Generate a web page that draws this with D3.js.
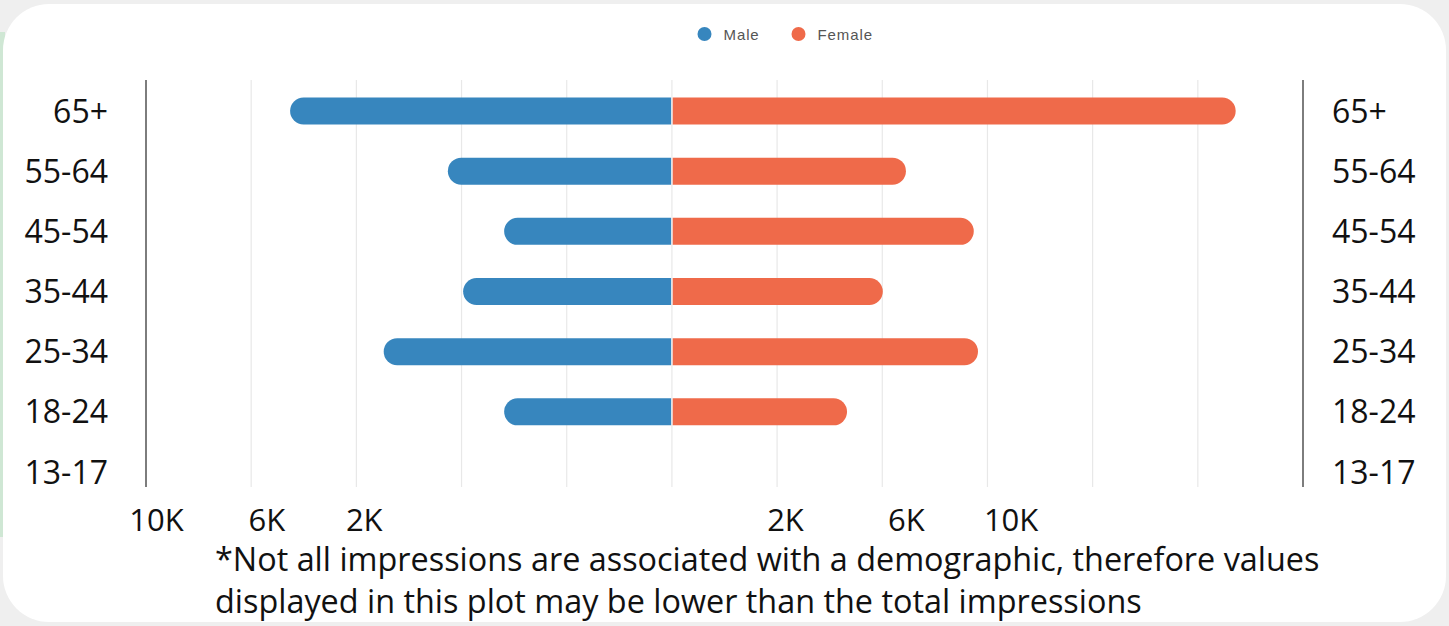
<!DOCTYPE html>
<html>
<head>
<meta charset="utf-8">
<script src="https://cdn.jsdelivr.net/npm/d3@7"></script>
<style>
	html, body { margin: 0; padding: 0; background: #efefef; }
	svg { display: block; }
</style>
</head>
<body>
<div id="chart"></div>
<script>
// age groups, top to bottom
const ageGroups = ['65+', '55-64', '45-54', '35-44', '25-34', '18-24', '13-17'];
// impressions
const maleValues = [7260, 4260, 3190, 3970, 5480, 3190, 0];
const femaleValues = [10720, 4450, 5740, 4010, 5820, 3330, 0];
const seriesNames = ['Male', 'Female'];
const seriesColors = ['#3786be', '#ef6a4a'];
// overlay tick labels under the plot, and where they sit on the value axis
const tickLabels = ['10K', '6K', '2K', '2K', '6K', '10K'];
const tickAt = [-9800, -7700, -5850, 2160, 4460, 6450];
const footnote = [
	'*Not all impressions are associated with a demographic, therefore values',
	'displayed in this plot may be lower than the total impressions'
];

const W = 1449, H = 626;
const FONT = '"Open Sans", sans-serif';

const svg = d3.select('#chart').append('svg')
	.attr('width', W)
	.attr('height', H);

// page background + card
svg.append('rect').attr('width', W).attr('height', H).attr('fill', '#efefef');
svg.append('rect')
	.attr('x', 0).attr('y', 32).attr('width', 5).attr('height', 505)
	.attr('fill', '#cfe7d4');
svg.append('rect')
	.attr('x', 3).attr('y', 4).attr('width', 1443).attr('height', 618)
	.attr('rx', 46).attr('ry', 46)
	.attr('fill', '#ffffff');

const x = d3.scaleLinear().domain([-10000, 12000]).range([146, 1303]);
const y = d3.scalePoint().domain(ageGroups).range([111, 472]);
const barH = 27;
const plotTop = 80, plotBottom = 487;

/* -------------------- grid ---------------------- */
const gridVals = d3.range(-8000, 12000, 2000);
svg.append('g').selectAll('line')
	.data(gridVals)
	.join('line')
	.attr('x1', d => x(d)).attr('x2', d => x(d))
	.attr('y1', plotTop).attr('y2', plotBottom)
	.attr('stroke', '#e8e8e8')
	.attr('stroke-width', 1.2);

// left / right axis lines
svg.append('g').selectAll('line')
	.data(x.domain())
	.join('line')
	.attr('x1', d => x(d)).attr('x2', d => x(d))
	.attr('y1', plotTop).attr('y2', plotBottom)
	.attr('stroke', '#7d7d7d')
	.attr('stroke-width', 2);

/* -------------------- bars ---------------------- */
// bar with a rounded outer end only
function barPath(xIn, xOut, cy, h) {
	const r = h / 2;
	const dir = xOut < xIn ? -1 : 1;
	const len = Math.abs(xOut - xIn);
	if (len <= 1) return '';
	const rr = Math.min(r, len);
	const xs = xOut - dir * rr;
	return `M${xIn},${cy - r}L${xs},${cy - r}` +
		`A${rr},${r} 0 0 ${dir > 0 ? 1 : 0} ${xs},${cy + r}` +
		`L${xIn},${cy + r}Z`;
}

const c0 = x(0);
const rows = ageGroups.map((g, i) => ({ g, male: maleValues[i], female: femaleValues[i] }));

svg.append('g').selectAll('path')
	.data(rows)
	.join('path')
	.attr('d', d => barPath(c0 - 0.8, x(-d.male), y(d.g), barH))
	.attr('fill', seriesColors[0]);

svg.append('g').selectAll('path')
	.data(rows)
	.join('path')
	.attr('d', d => barPath(c0 + 0.8, x(d.female), y(d.g), barH))
	.attr('fill', seriesColors[1]);

/* -------------------- category labels ---------------------- */
const labelSize = 32;
svg.append('g').selectAll('text')
	.data(ageGroups)
	.join('text')
	.attr('x', 108)
	.attr('y', d => y(d) + 11.5)
	.attr('text-anchor', 'end')
	.style('font-family', FONT).style('font-size', labelSize + 'px')
	.attr('fill', '#111')
	.text(d => d);

svg.append('g').selectAll('text')
	.data(ageGroups)
	.join('text')
	.attr('x', 1332)
	.attr('y', d => y(d) + 11.5)
	.attr('text-anchor', 'start')
	.style('font-family', FONT).style('font-size', labelSize + 'px')
	.attr('fill', '#111')
	.text(d => d);

/* -------------------- tick labels ---------------------- */
svg.append('g').selectAll('text')
	.data(tickLabels)
	.join('text')
	.attr('x', (d, i) => x(tickAt[i]))
	.attr('y', 531)
	.attr('text-anchor', 'middle')
	.style('font-family', FONT).style('font-size', '31px')
	.attr('fill', '#111')
	.text(d => d);

/* -------------------- legend ---------------------- */
const legend = svg.append('g');
const legendX = [704.5, 798.5];
seriesNames.forEach((name, i) => {
	legend.append('circle')
		.attr('cx', legendX[i]).attr('cy', 34).attr('r', 7)
		.attr('fill', seriesColors[i]);
	legend.append('text')
		.attr('x', legendX[i] + 19).attr('y', 39.5)
		.style('font-family', '"Liberation Sans", Arial, sans-serif')
		.style('font-size', '15px')
		.style('letter-spacing', '0.9px')
		.attr('fill', '#555')
		.text(name);
});

/* -------------------- footnote ---------------------- */
const note = svg.append('g');
const line1 = note.append('text')
	.attr('x', 215).attr('y', 571)
	.style('font-family', FONT).style('font-size', '30px')
	.attr('fill', '#111')
	.text(footnote[0]);
// fit the first line to the width seen in the picture
const w1 = line1.node().getComputedTextLength();
const noteSize = 30 * 1105 / w1;
line1.style('font-size', noteSize + 'px');
note.append('text')
	.attr('x', 215).attr('y', 613)
	.style('font-family', FONT).style('font-size', noteSize + 'px')
	.attr('fill', '#111')
	.text(footnote[1]);
</script>
</body>
</html>
